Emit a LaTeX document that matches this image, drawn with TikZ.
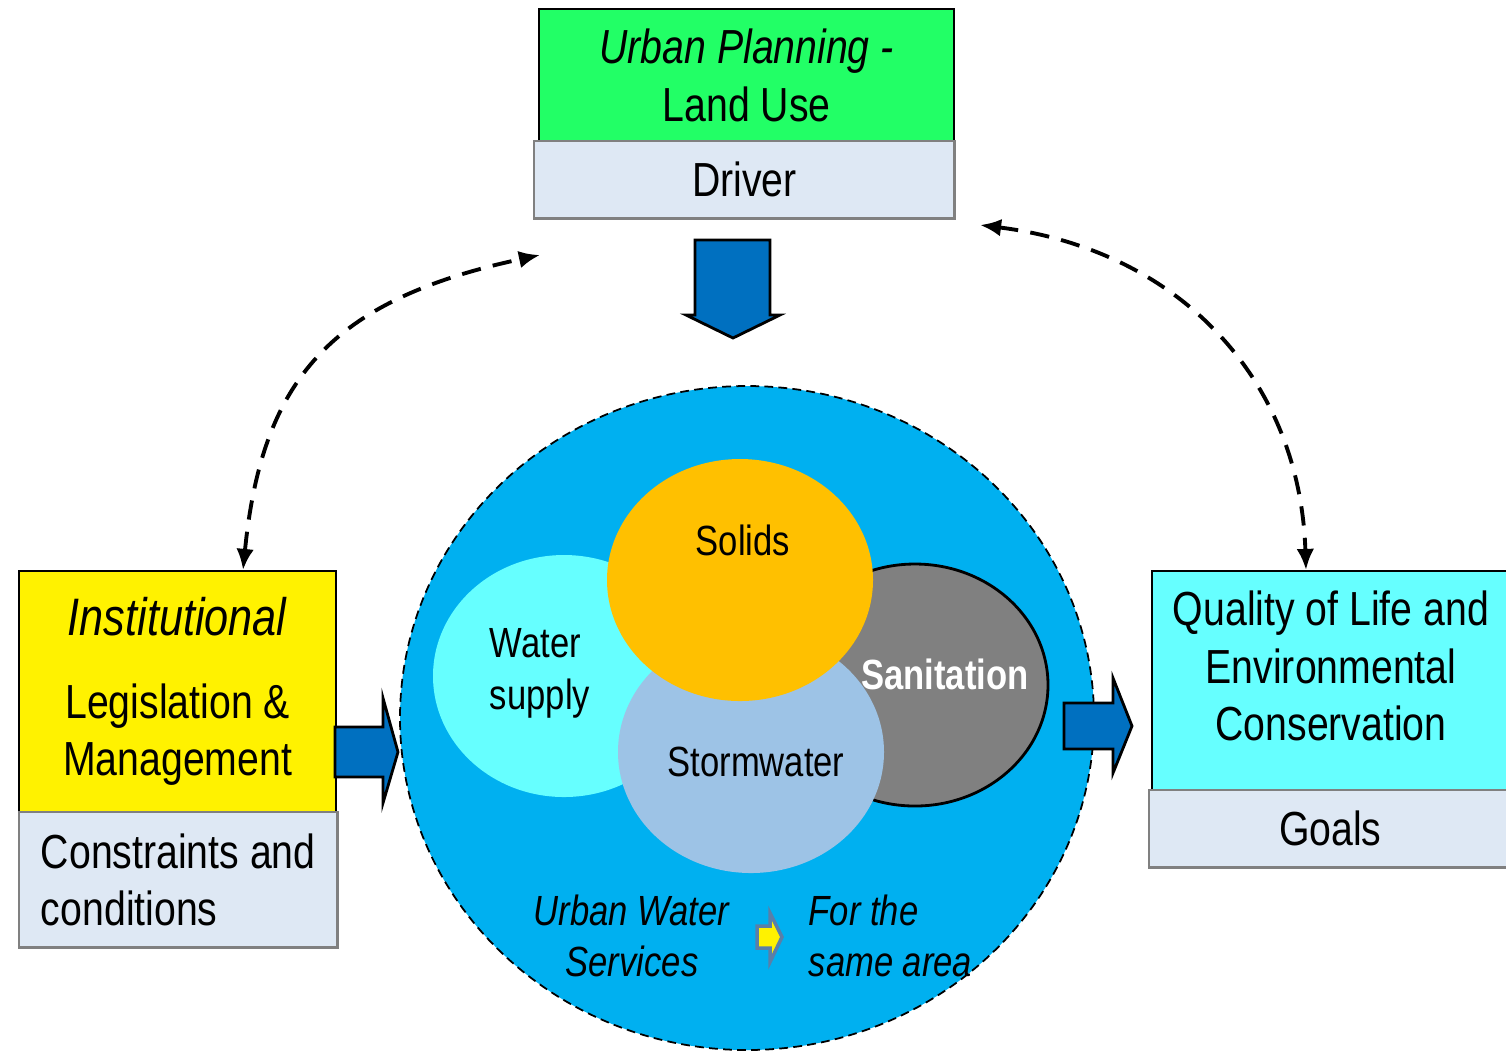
\documentclass[tikz,border=0pt]{standalone}
\usepackage{fontspec}
\setmainfont{Liberation Sans}[FakeStretch=0.82]
\usetikzlibrary{arrows.meta}

\definecolor{plangreen}{HTML}{22FF66}
\definecolor{palebox}{HTML}{DEE8F4}
\definecolor{boxgrey}{HTML}{808080}
\definecolor{cityblue}{HTML}{00B0F0}
\definecolor{arrowblue}{HTML}{0070C0}
\definecolor{aqua}{HTML}{66FFFF}
\definecolor{solidorange}{HTML}{FFC000}
\definecolor{stormblue}{HTML}{9DC3E6}
\definecolor{smallrim}{HTML}{5A7FA8}

\newcommand{\bigtext}{\fontsize{13.6}{16.4}\selectfont}
\newcommand{\midtext}{\fontsize{12}{14.7}\selectfont}

\tikzset{
  topbox/.style={draw=black, line width=0.6pt, anchor=north west, inner sep=0pt, align=center, font=\bigtext},
  notebox/.style={draw=boxgrey, fill=palebox, line width=0.7pt, anchor=north west, inner sep=0pt, font=\bigtext},
  blockarrow/.style={draw=black, fill=arrowblue, line width=0.8pt, line join=miter},
  linkarrow/.style={{Latex[length=6pt,width=5pt]}-{Latex[length=6pt,width=5pt]}, line width=1.1pt, dash pattern=on 5.5pt off 3.5pt},
  venntext/.style={font=\midtext, align=left, inner sep=0pt}
}

\begin{document}
\begin{tikzpicture}[x=0.01cm, y=-0.01cm]
\useasboundingbox (0,0) rectangle (1506,1053);

% boxes round the circle
\node[topbox, fill=plangreen, minimum width=4.15cm, minimum height=1.32cm] (plan) at (538,8) {\textit{Urban Planning -}\\Land Use};
\node[notebox, minimum width=4.2cm, minimum height=0.77cm] (driver) at (533,140) {Driver};

\node[topbox, fill=yellow, minimum width=3.17cm, minimum height=2.41cm] (inst) at (18,570) {\fontsize{15}{18}\selectfont\textit{Institutional}\\[7pt] Legislation \&\\Management};
\node[notebox, minimum width=3.18cm, minimum height=1.35cm, align=left] (cond) at (18,811) {Constraints and\\conditions};

\node[topbox, fill=aqua, minimum width=3.6cm, minimum height=2.19cm] (goalbox) at (1151,570) {};
\node[font=\bigtext, align=center, inner sep=0pt] (goaltext) at (1331,666) {Quality of Life and\\Environmental\\Conservation};
\node[notebox, minimum width=3.62cm, minimum height=0.77cm] (goals) at (1148,789) {Goals};

% urban water services
\draw[fill=cityblue, dashed, line width=0.5pt, dash pattern=on 2.5pt off 1.5pt] (747,718) ellipse [x radius=347, y radius=332];
\fill[aqua] (564,676) ellipse [x radius=131, y radius=121];
\draw[fill=boxgrey, line width=0.8pt] (915,685) ellipse [x radius=133, y radius=121];
\fill[stormblue] (751,752) ellipse [x radius=133, y radius=121];
\fill[solidorange] (740,580) ellipse [x radius=133, y radius=121];

\node[venntext] (solids) at (743,540) {Solids};
\node[venntext] (water) at (540,673) {Water\\supply};
\node[venntext, text=white, font=\midtext\bfseries] (sani) at (945,674) {Sanitation};
\node[venntext] (storm) at (756,762) {Stormwater};
\node[venntext, align=center] (uws) at (632,936) {\textit{Urban Water}\\\textit{Services}};
\node[venntext, anchor=west] (area) at (808,936) {\textit{For the}\\\textit{same area}};
\draw[fill=yellow, draw=smallrim, line width=1pt] (757,926) -- (770,926) -- (770,913) -- (782,937) -- (770,962) -- (770,948) -- (757,948) -- cycle;

% block arrows
\draw[blockarrow] (695,240) -- (770,240) -- (770,315) -- (780,315) -- (733,338) -- (686,315) -- (695,315) -- cycle;
\draw[blockarrow] (335,727) -- (383,727) -- (383,698) -- (398,752) -- (383,803) -- (383,777) -- (335,777) -- cycle;
\draw[blockarrow] (1064,703) -- (1113,703) -- (1113,678) -- (1132,726) -- (1113,773) -- (1113,749) -- (1064,749) -- cycle;

% feedback links
\coordinate (drvL) at (540,255);
\coordinate (drvR) at (980,225);
\coordinate (instTop) at (243,570);
\coordinate (goalTop) at (1306,570);
\draw[linkarrow] (instTop) .. controls (262,380) and (330,300) .. (drvL);
\draw[linkarrow] (drvR) .. controls (1180,250) and (1300,380) .. (goalTop);
\end{tikzpicture}
\end{document}
